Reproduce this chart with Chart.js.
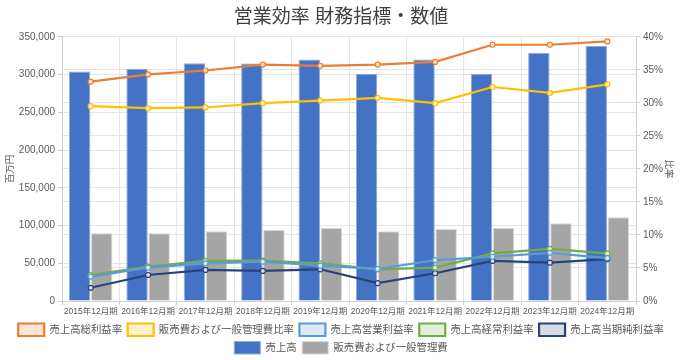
<!DOCTYPE html>
<html><head><meta charset="utf-8">
<script src="https://cdn.jsdelivr.net/npm/chart.js@4.4.0/dist/chart.umd.min.js"></script>
<style>html,body{margin:0;padding:0;background:#fff;}#wrap{width:682px;height:360px;}</style>
</head><body><div id="wrap"><canvas id="c" width="682" height="360"></canvas></div>
<script>
const categories = ['2015年12月期','2016年12月期','2017年12月期','2018年12月期','2019年12月期','2020年12月期','2021年12月期','2022年12月期','2023年12月期','2024年12月期'];
const sales = [304000, 307700, 315100, 314700, 320000, 301000, 320000, 301000, 328500, 338200];
const sgaCost = [89800, 89800, 92400, 94100, 96800, 92400, 95400, 96800, 103000, 111000];
const grossMargin = [33.2, 34.3, 34.9, 35.8, 35.6, 35.8, 36.2, 38.8, 38.8, 39.3];
const sgaRatio = [29.5, 29.2, 29.3, 29.95, 30.35, 30.76, 29.95, 32.4, 31.5, 32.8];
const operatingMargin = [3.7, 5.05, 5.7, 5.96, 5.35, 4.85, 6.2, 6.7, 7.3, 6.5];
const ordinaryMargin = [3.94, 5.2, 6.06, 6.1, 5.7, 4.8, 5.05, 7.2, 7.9, 7.2];
const netMargin = [2.0, 3.94, 4.7, 4.55, 4.8, 2.7, 4.2, 6.06, 5.8, 6.35];
const leftTicksMax = 350000, leftStep = 50000, rightMax = 40, rightStep = 5;

const FONT = "'Liberation Sans', 'Noto Sans CJK JP', sans-serif";
const TXT = '#595959';
const GRID = '#e4e4e4';

function lineDs(label, data, color, light) {
  return { type: 'line', label, data, yAxisID: 'y1', order: 0,
    borderColor: color, backgroundColor: light, borderWidth: 2.2,
    pointRadius: 2.5, pointBorderWidth: 1.2, pointBackgroundColor: light, pointBorderColor: color,
    tension: 0, fill: false };
}
function barDs(label, data, color, edge) {
  return { type: 'bar', label, data, yAxisID: 'y', order: 1,
    backgroundColor: color, borderColor: edge, borderWidth: 1,
    categoryPercentage: 0.77, barPercentage: 0.97 };
}

new Chart(document.getElementById('c'), {
  data: {
    labels: categories,
    datasets: [
      lineDs('売上高総利益率', grossMargin, '#ED7D31', '#FBE5D6'),
      lineDs('販売費および一般管理費比率', sgaRatio, '#FFC000', '#FFF2CC'),
      lineDs('売上高営業利益率', operatingMargin, '#5B9BD5', '#DEEBF7'),
      lineDs('売上高経常利益率', ordinaryMargin, '#70AD47', '#E2F0D9'),
      lineDs('売上高当期純利益率', netMargin, '#264478', '#D6DCE5'),
      barDs('売上高', sales, '#4472C4', '#8FAADC'),
      barDs('販売費および一般管理費', sgaCost, '#A5A5A5', '#D9D9D9')
    ]
  },
  options: {
    responsive: false, animation: false, devicePixelRatio: 1,
    layout: { padding: { left: 0, right: 0, top: 0, bottom: -4 } },
    plugins: {
      title: { display: true, text: '営業効率 財務指標・数値', color: '#404040',
        font: { family: FONT, size: 19, weight: 'normal' }, padding: { top: 6, bottom: 8 } },
      legend: { position: 'bottom',
        labels: { color: TXT, font: { family: FONT, size: 10.4 }, boxWidth: 26, boxHeight: 12.5, padding: 5.5 } },
      tooltip: { enabled: false }
    },
    scales: {
      x: { offset: true,
        grid: { display: true, offset: true, color: GRID, tickLength: 4, tickColor: '#d0d0d0' },
        border: { color: '#d0d0d0' },
        ticks: { color: TXT, font: { family: FONT, size: 8.5 }, maxRotation: 0, autoSkip: false, padding: 2 },
        afterFit(s) { s.height = 17; } },
      y: { position: 'left', min: 0, max: leftTicksMax,
        ticks: { stepSize: leftStep, color: TXT, font: { family: FONT, size: 10 }, padding: 3,
          callback: v => v.toLocaleString('en-US') },
        grid: { color: GRID, tickLength: 4, tickColor: '#d0d0d0' }, border: { color: '#d0d0d0' },
        title: { display: true, text: '百万円', color: TXT, font: { family: FONT, size: 9.5 }, padding: { top: 5, bottom: 0 } },
        afterFit(s) { s.width = 62; } },
      y1: { position: 'right', min: 0, max: rightMax,
        ticks: { stepSize: rightStep, color: TXT, font: { family: FONT, size: 10 }, padding: 3,
          callback: v => v + '%' },
        grid: { color: GRID, tickLength: 4, tickColor: '#d0d0d0' }, border: { color: '#d0d0d0' },
        title: { display: true, text: '比率', color: TXT, font: { family: FONT, size: 9.5 }, padding: { top: 8, bottom: 0 } },
        afterFit(s) { s.width = 46; } }
    }
  }
});
</script></body></html>
